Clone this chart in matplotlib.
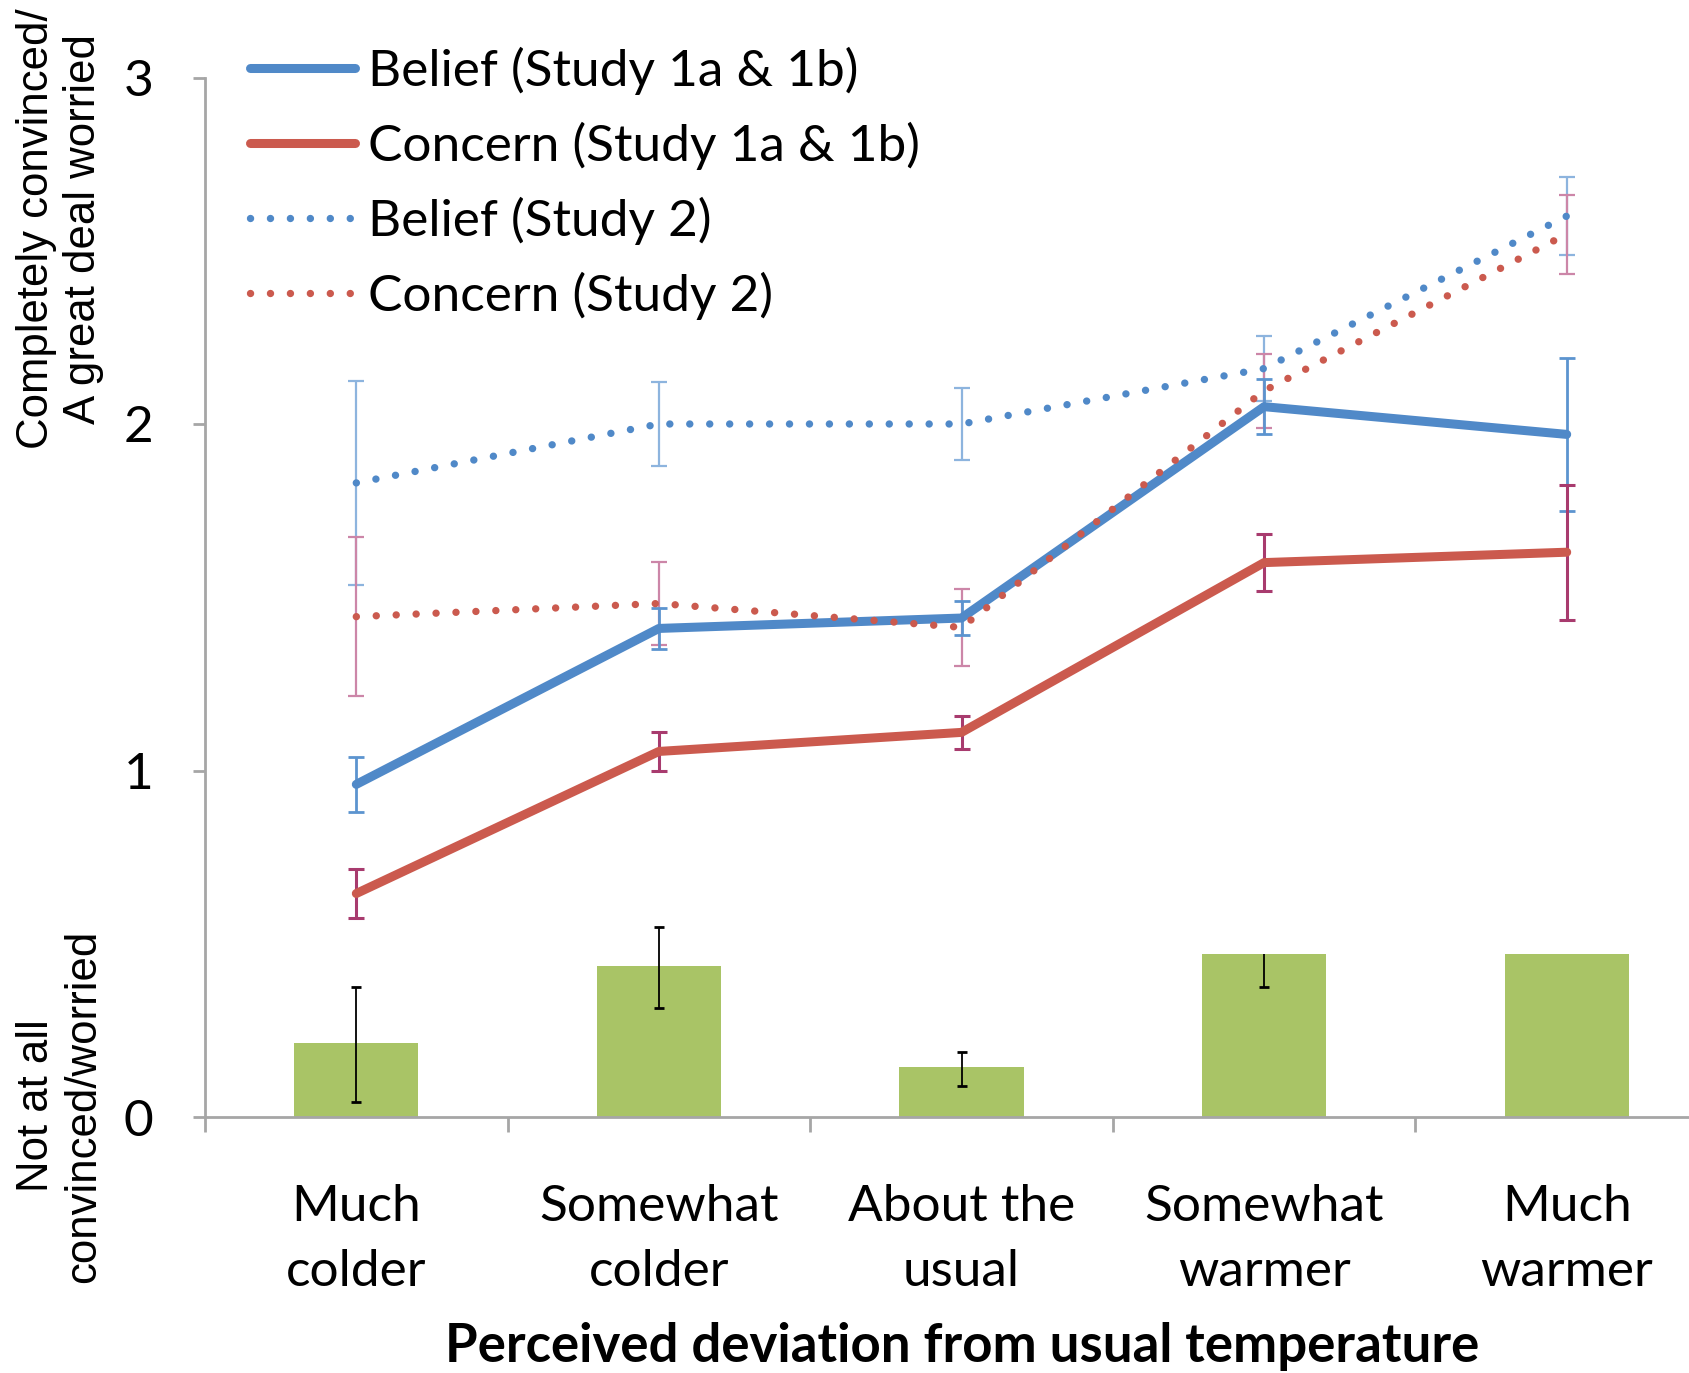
import numpy as np
from matplotlib import pyplot as plt

categories = ["Much\ncolder", "Somewhat\ncolder", "About the\nusual", "Somewhat\nwarmer", "Much\nwarmer"]

belief_1 = [0.96, 1.41, 1.44, 2.05, 1.97]
belief_1_err = [0.08, 0.06, 0.05, 0.08, 0.22]
concern_1 = [0.645, 1.055, 1.11, 1.60, 1.63]
concern_1_err = [0.07, 0.055, 0.048, 0.083, 0.195]
belief_2 = [1.83, 2.00, 2.00, 2.16, 2.60]
belief_2_err = [0.295, 0.12, 0.105, 0.093, 0.112]
concern_2 = [1.444, 1.482, 1.413, 2.096, 2.548]
concern_2_err = [0.23, 0.12, 0.11, 0.107, 0.114]

bars = [0.214, 0.435, 0.144, 0.469, 0.469]
bars_err_low = [0.171, 0.119, 0.055, 0.094, 0.0]
bars_err_high = [0.161, 0.112, 0.045, 0.0, 0.0]

yticks = [0, 1, 2, 3]

BLUE = "#5089C8"
RED = "#CB5A4E"
GREEN = "#A9C466"
AXIS = "#A6A6A6"

W, H = 1689, 1373
fig = plt.figure(figsize=(W / 100, H / 100), dpi=100)
ax = fig.add_axes([205 / W, 1 - 1117 / H, (1718 - 205) / W, (1117 - 77.5) / H])

x = np.arange(len(categories)) + 0.5

# green bars, the two right ones are cut at the top in the original
ax.bar(x, bars, width=0.41, color=GREEN, zorder=1)
b = np.array(bars)
lo = b - np.array(bars_err_low)
hi = b + np.array(bars_err_high)
has = (np.array(bars_err_low) > 0) | (np.array(bars_err_high) > 0)
ax.vlines(x[has], lo[has], hi[has], color="black", lw=1.3, zorder=2)
m_lo = np.array(bars_err_low) > 0
m_hi = np.array(bars_err_high) > 0
ax.plot(x[m_lo], lo[m_lo], ls="none", marker="_", ms=7, mew=2, color="black", zorder=2)
ax.plot(x[m_hi], hi[m_hi], ls="none", marker="_", ms=7, mew=2, color="black", zorder=2)

# error bars for the lines
ax.errorbar(x, belief_2, yerr=belief_2_err, fmt="none", ecolor="#8DB4DE",
            elinewidth=1.6, capsize=6, capthick=1.6, zorder=3)
ax.errorbar(x, concern_2, yerr=concern_2_err, fmt="none", ecolor="#CC86A8",
            elinewidth=1.6, capsize=6, capthick=1.6, zorder=3)
ax.errorbar(x, belief_1, yerr=belief_1_err, fmt="none", ecolor="#5C94CF",
            elinewidth=2, capsize=6, capthick=2, zorder=3)
ax.errorbar(x, concern_1, yerr=concern_1_err, fmt="none", ecolor="#A83B6E",
            elinewidth=2.2, capsize=6, capthick=2.2, zorder=3)

dots = (0, (0.01, 2.7))
ax.plot(x, belief_1, color=BLUE, lw=6.5, solid_capstyle="round", solid_joinstyle="round",
        label="Belief (Study 1a & 1b)", zorder=4)
ax.plot(x, concern_1, color=RED, lw=6.5, solid_capstyle="round", solid_joinstyle="round",
        label="Concern (Study 1a & 1b)", zorder=4)
ax.plot(x, belief_2, color=BLUE, lw=5.3, linestyle=dots, dash_capstyle="round",
        label="Belief (Study 2)", zorder=5)
ax.plot(x, concern_2, color=RED, lw=5.3, linestyle=dots, dash_capstyle="round",
        label="Concern (Study 2)", zorder=5)

ax.set_xlim(0, 5)
ax.set_ylim(0, 3)

for s in ["top", "right"]:
    ax.spines[s].set_visible(False)
for s in ["left", "bottom"]:
    ax.spines[s].set_color(AXIS)
    ax.spines[s].set_linewidth(2)

ax.set_yticks(yticks)
ax.set_yticklabels([str(t) for t in yticks], fontfamily="Lato", fontsize=37)
ax.tick_params(axis="y", length=9, width=2, color=AXIS, pad=28)

ax.set_xticks(np.arange(len(categories) + 1))
ax.set_xticklabels([])
ax.tick_params(axis="x", which="major", length=11, width=2, color=AXIS)
ax.set_xticks(x, minor=True)
ax.set_xticklabels(categories, minor=True, fontfamily="Lato", fontsize=37, linespacing=1.52)
ax.tick_params(axis="x", which="minor", length=0, pad=48)

fig.text(893 * 1.0772 / W, 1 - 1250 * 1.0772 / H,
         "Perceived deviation from usual temperature", fontfamily="Lato",
         fontweight="bold", fontsize=38, ha="center", va="center")

fig.text(60 / W, 1 - 229 / H, "Completely convinced/\nA great deal worried",
         rotation=90, ha="center", va="center", multialignment="center",
         fontfamily="Liberation Sans", fontsize=31.5, linespacing=1.2)
fig.text(60 / W, 1 - 1106 / H, "Not at all\nconvinced/worried",
         rotation=90, ha="center", va="center", multialignment="center",
         fontfamily="Liberation Sans", fontsize=31.5, linespacing=1.2)

leg = ax.legend(loc="upper left", bbox_to_anchor=(250 / W, 1 - 47 / H),
                bbox_transform=fig.transFigure, frameon=False,
                prop={"family": "Lato", "size": 37}, handlelength=2.04,
                handletextpad=0.25, labelspacing=0.52, borderpad=0, borderaxespad=0)

fig.savefig("out.png", dpi=100)
